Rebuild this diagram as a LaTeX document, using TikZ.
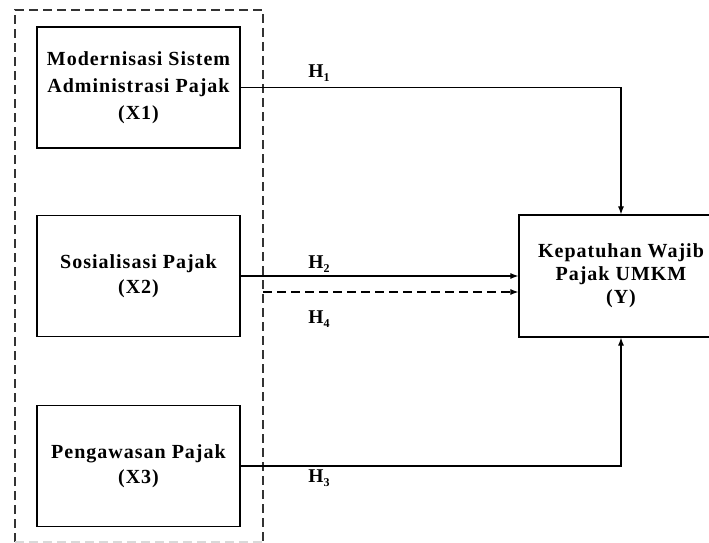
\documentclass[tikz,border=0pt]{standalone}
\usepackage{fontspec}
\setmainfont{Liberation Serif}
\usetikzlibrary{arrows.meta}
\newcommand{\hsub}[1]{H\raisebox{-3.5pt}{\fontsize{12}{12}\selectfont#1}}
\tikzset{
  var/.style={draw, line width=1.2pt, align=center, minimum width=203pt,
    minimum height=121pt, inner sep=2pt,
    font=\fontsize{20}{25}\selectfont\bfseries\addfontfeature{LetterSpace=5},
    execute at begin node={\rule{0pt}{22pt}}},
  xvar/.style={var, execute at begin node={\rule{0pt}{29pt}}},
  hlabel/.style={font=\fontsize{19.5}{22}\selectfont\bfseries, inner sep=0pt},
  link/.style={line width=1.1pt, -{Latex[length=8pt,width=6pt]}},
  grp/.style={dashed, line width=1.2pt, dash pattern=on 9pt off 5pt},
}
\begin{document}
\begin{tikzpicture}[x=1pt, y=-1pt]
        \useasboundingbox (0,0) rectangle (709,543);
        % group of independent variables
        \draw[grp, gray!40!black] (15,542) -- (15,10) -- (263,10) -- (263,542);
        \draw[grp, black!15] (15,542) -- (263,542);
        \coordinate (G) at (263,292);
        \node[xvar, font=\fontsize{20}{27}\selectfont\bfseries\addfontfeature{LetterSpace=5}] (X1) at (138.5,87.5) {Modernisasi Sistem\\Administrasi Pajak\\(X1)};
        \node[xvar] (X2) at (138.5,276) {Sosialisasi Pajak\\(X2)};
        \node[xvar] (X3) at (138.5,466) {Pengawasan Pajak\\(X3)};
        \node[var, minimum width=204pt, minimum height=122pt,
          font=\fontsize{20}{23}\selectfont\bfseries\addfontfeature{LetterSpace=5}] (Y) at (621,276) {Kepatuhan Wajib\\Pajak UMKM\\(Y)};
        \draw[link] (X1.east) -| (Y.north);
        \draw[link] (X2.east) -- (X2.east -| Y.west);
        \draw[link, dashed, dash pattern=on 9pt off 5pt] (G) -- (G -| Y.west);
        \draw[link] (X3.east) -| (Y.south);
        \node[hlabel] (H1) at (319,73) {\hsub{1}};
        \node[hlabel] (H2) at (319,264) {\hsub{2}};
        \node[hlabel] (H4) at (319,319) {\hsub{4}};
        \node[hlabel] (H3) at (319,478) {\hsub{3}};
    \end{tikzpicture}
\end{document}
